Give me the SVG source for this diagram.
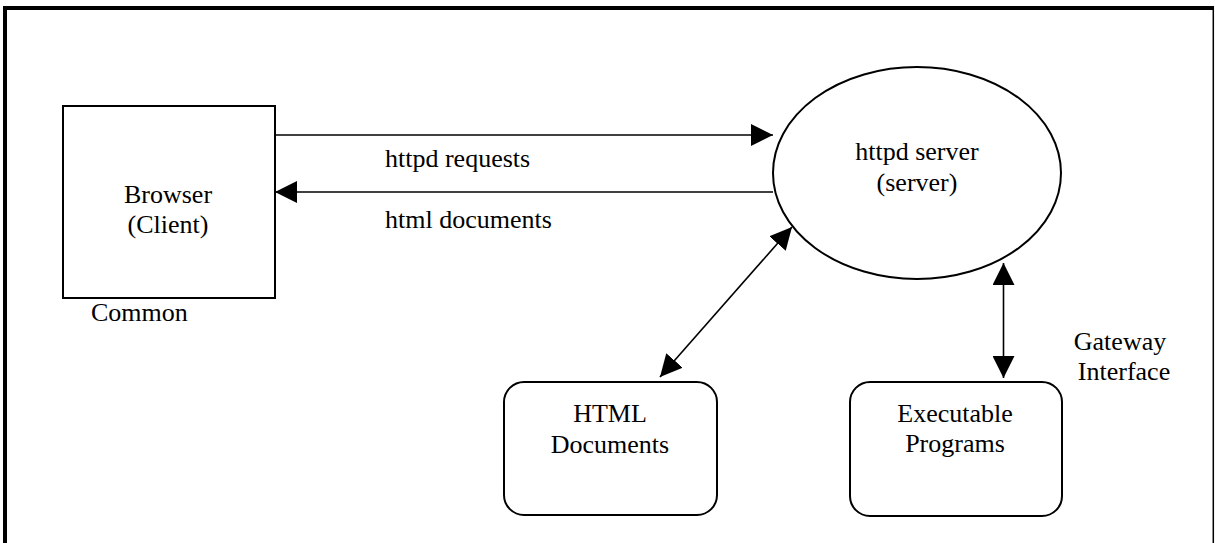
<svg xmlns="http://www.w3.org/2000/svg" width="1215" height="543" viewBox="0 0 1215 543">
<style>
text{font-family:'Liberation Serif','Times New Roman','DejaVu Serif',serif;font-size:26px;fill:#000}
.c{text-anchor:middle}
.shape{fill:#fff;stroke:#000;stroke-width:2}
.ln{stroke:#000;stroke-width:1.6;fill:none}
</style>
<defs>
<marker id="ah" markerUnits="userSpaceOnUse" markerWidth="22" markerHeight="22" viewBox="0 0 20 20" refX="20" refY="10" orient="auto-start-reverse">
<path d="M0,0 L20,10 L0,20 Z" fill="#000"/>
</marker>
</defs>
<rect width="1215" height="543" fill="#fff"/>
<g id="frame">
<line x1="5" y1="6" x2="5" y2="543" stroke="#000" stroke-width="4"/>
<line x1="3" y1="8" x2="1214" y2="8" stroke="#000" stroke-width="4"/>
<line x1="1213.3" y1="6" x2="1213.3" y2="543" stroke="#000" stroke-width="1.5"/>
</g>
<g id="connectors">
<line class="ln" x1="275" y1="135" x2="773" y2="135" marker-end="url(#ah)"/>
<line class="ln" x1="773" y1="192" x2="275" y2="192" marker-end="url(#ah)"/>
<line class="ln" x1="660" y1="377" x2="792" y2="227" marker-start="url(#ah)" marker-end="url(#ah)"/>
<line class="ln" x1="1003.5" y1="263" x2="1003.5" y2="378" stroke-width="2.2" marker-start="url(#ah)" marker-end="url(#ah)"/>
</g>
<g id="browser" font-family="Liberation Serif, serif">
<rect class="shape" x="63" y="106" width="212" height="192"/>
<text class="c" x="168" y="203">Browser</text>
<text class="c" x="168" y="233">(Client)</text>
</g>
<g id="server" font-family="Liberation Serif, serif">
<ellipse class="shape" cx="917" cy="173" rx="144" ry="106"/>
<text class="c" x="917" y="160">httpd server</text>
<text class="c" x="917" y="191">(server)</text>
</g>
<g id="html-docs" font-family="Liberation Serif, serif">
<rect class="shape" x="504" y="382" width="213" height="133" rx="20" ry="20"/>
<text class="c" x="610" y="422">HTML</text>
<text class="c" x="610" y="453">Documents</text>
</g>
<g id="exec-programs" font-family="Liberation Serif, serif">
<rect class="shape" x="850" y="382" width="212" height="134" rx="20" ry="20"/>
<text class="c" x="955" y="422">Executable</text>
<text class="c" x="955" y="452">Programs</text>
</g>
<g id="labels" font-family="Liberation Serif, serif">
<text x="385" y="167">httpd requests</text>
<text x="385" y="228">html documents</text>
<text x="91" y="321">Common</text>
<text class="c" x="1120" y="350">Gateway</text>
<text class="c" x="1124" y="380">Interface</text>
</g>
</svg>
